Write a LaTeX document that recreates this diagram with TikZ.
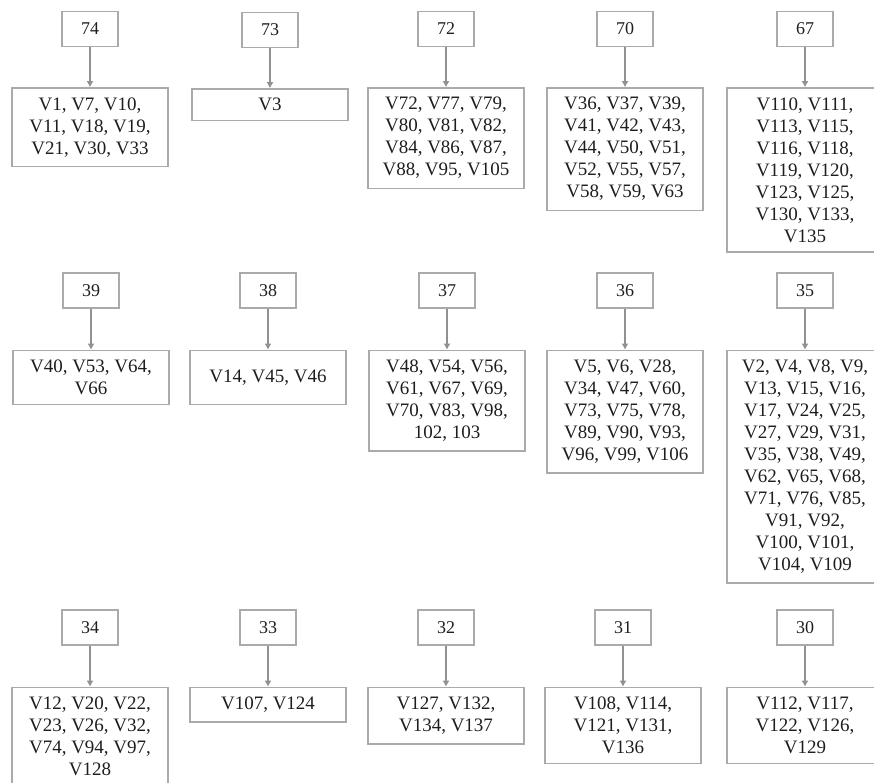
\documentclass[tikz,border=0pt]{standalone}
\usepackage{fontspec}
\setmainfont{Liberation Serif}
\usepackage{xcolor}
\usetikzlibrary{arrows.meta,positioning}

\definecolor{boxgray}{RGB}{170,170,170}
\definecolor{arrowgray}{RGB}{145,145,145}
\definecolor{txtgray}{RGB}{30,30,30}

\begin{document}
\begin{tikzpicture}[
  x=1pt, y=-1pt,
  node distance=40pt,
  numbox/.style={rectangle, draw=boxgray, line width=1.4pt, minimum width=56pt, minimum height=35pt,
    inner sep=0pt, text=txtgray, font=\fontsize{18}{20}\selectfont},
  listbox/.style={rectangle, draw=boxgray, line width=1.4pt, minimum width=156pt, inner xsep=2pt,
    inner ysep=9.5pt, align=center, text=txtgray, font=\fontsize{19}{22}\selectfont},
  link/.style={-{Latex[length=6pt,width=7pt]}, draw=arrowgray, line width=1.4pt}
]
\useasboundingbox (0,0) rectangle (874,783);
\clip (0,0) rectangle (874,783);

% first row
\node[numbox] (n74) at (90,29) {74};
\node[listbox, below=of n74] (v74) {V1, V7, V10,\\V11, V18, V19,\\V21, V30, V33};
\draw[link] (n74) -- (v74);

\node[numbox] (n73) at (270,30) {73};
\node[listbox, below=of n73] (v73) {V3};
\draw[link] (n73) -- (v73);

\node[numbox] (n72) at (446,29) {72};
\node[listbox, below=of n72] (v72) {V72, V77, V79,\\V80, V81, V82,\\V84, V86, V87,\\V88, V95, V105};
\draw[link] (n72) -- (v72);

\node[numbox] (n70) at (625,29) {70};
\node[listbox, below=of n70] (v70) {V36, V37, V39,\\V41, V42, V43,\\V44, V50, V51,\\V52, V55, V57,\\V58, V59, V63};
\draw[link] (n70) -- (v70);

\node[numbox] (n67) at (805,29) {67};
\node[listbox, below=of n67] (v67) {V110, V111,\\V113, V115,\\V116, V118,\\V119, V120,\\V123, V125,\\V130, V133,\\V135};
\draw[link] (n67) -- (v67);

% second row
\node[numbox] (n39) at (91,290.5) {39};
\node[listbox, below=41pt of n39] (v39) {V40, V53, V64,\\V66};
\draw[link] (n39) -- (v39);

\node[numbox] (n38) at (268,290.5) {38};
\node[listbox, minimum height=54pt, below=41pt of n38] (v38) {V14, V45, V46};
\draw[link] (n38) -- (v38);

\node[numbox] (n37) at (447,290.5) {37};
\node[listbox, below=41pt of n37] (v37) {V48, V54, V56,\\V61, V67, V69,\\V70, V83, V98,\\102, 103};
\draw[link] (n37) -- (v37);

\node[numbox] (n36) at (625,290.5) {36};
\node[listbox, below=41pt of n36] (v36) {V5, V6, V28,\\V34, V47, V60,\\V73, V75, V78,\\V89, V90, V93,\\V96, V99, V106};
\draw[link] (n36) -- (v36);

\node[numbox] (n35) at (805,290.5) {35};
\node[listbox, below=41pt of n35] (v35) {V2, V4, V8, V9,\\V13, V15, V16,\\V17, V24, V25,\\V27, V29, V31,\\V35, V38, V49,\\V62, V65, V68,\\V71, V76, V85,\\V91, V92,\\V100, V101,\\V104, V109};
\draw[link] (n35) -- (v35);

% third row
\node[numbox] (n34) at (90,627.5) {34};
\node[listbox, below=41pt of n34] (v34) {V12, V20, V22,\\V23, V26, V32,\\V74, V94, V97,\\V128};
\draw[link] (n34) -- (v34);

\node[numbox] (n33) at (268,627.5) {33};
\node[listbox, below=41pt of n33] (v33) {V107, V124};
\draw[link] (n33) -- (v33);

\node[numbox] (n32) at (446,627.5) {32};
\node[listbox, below=41pt of n32] (v32) {V127, V132,\\V134, V137};
\draw[link] (n32) -- (v32);

\node[numbox] (n31) at (623,627.5) {31};
\node[listbox, below=41pt of n31] (v31) {V108, V114,\\V121, V131,\\V136};
\draw[link] (n31) -- (v31);

\node[numbox] (n30) at (805,627.5) {30};
\node[listbox, below=41pt of n30] (v30) {V112, V117,\\V122, V126,\\V129};
\draw[link] (n30) -- (v30);

\end{tikzpicture}
\end{document}
